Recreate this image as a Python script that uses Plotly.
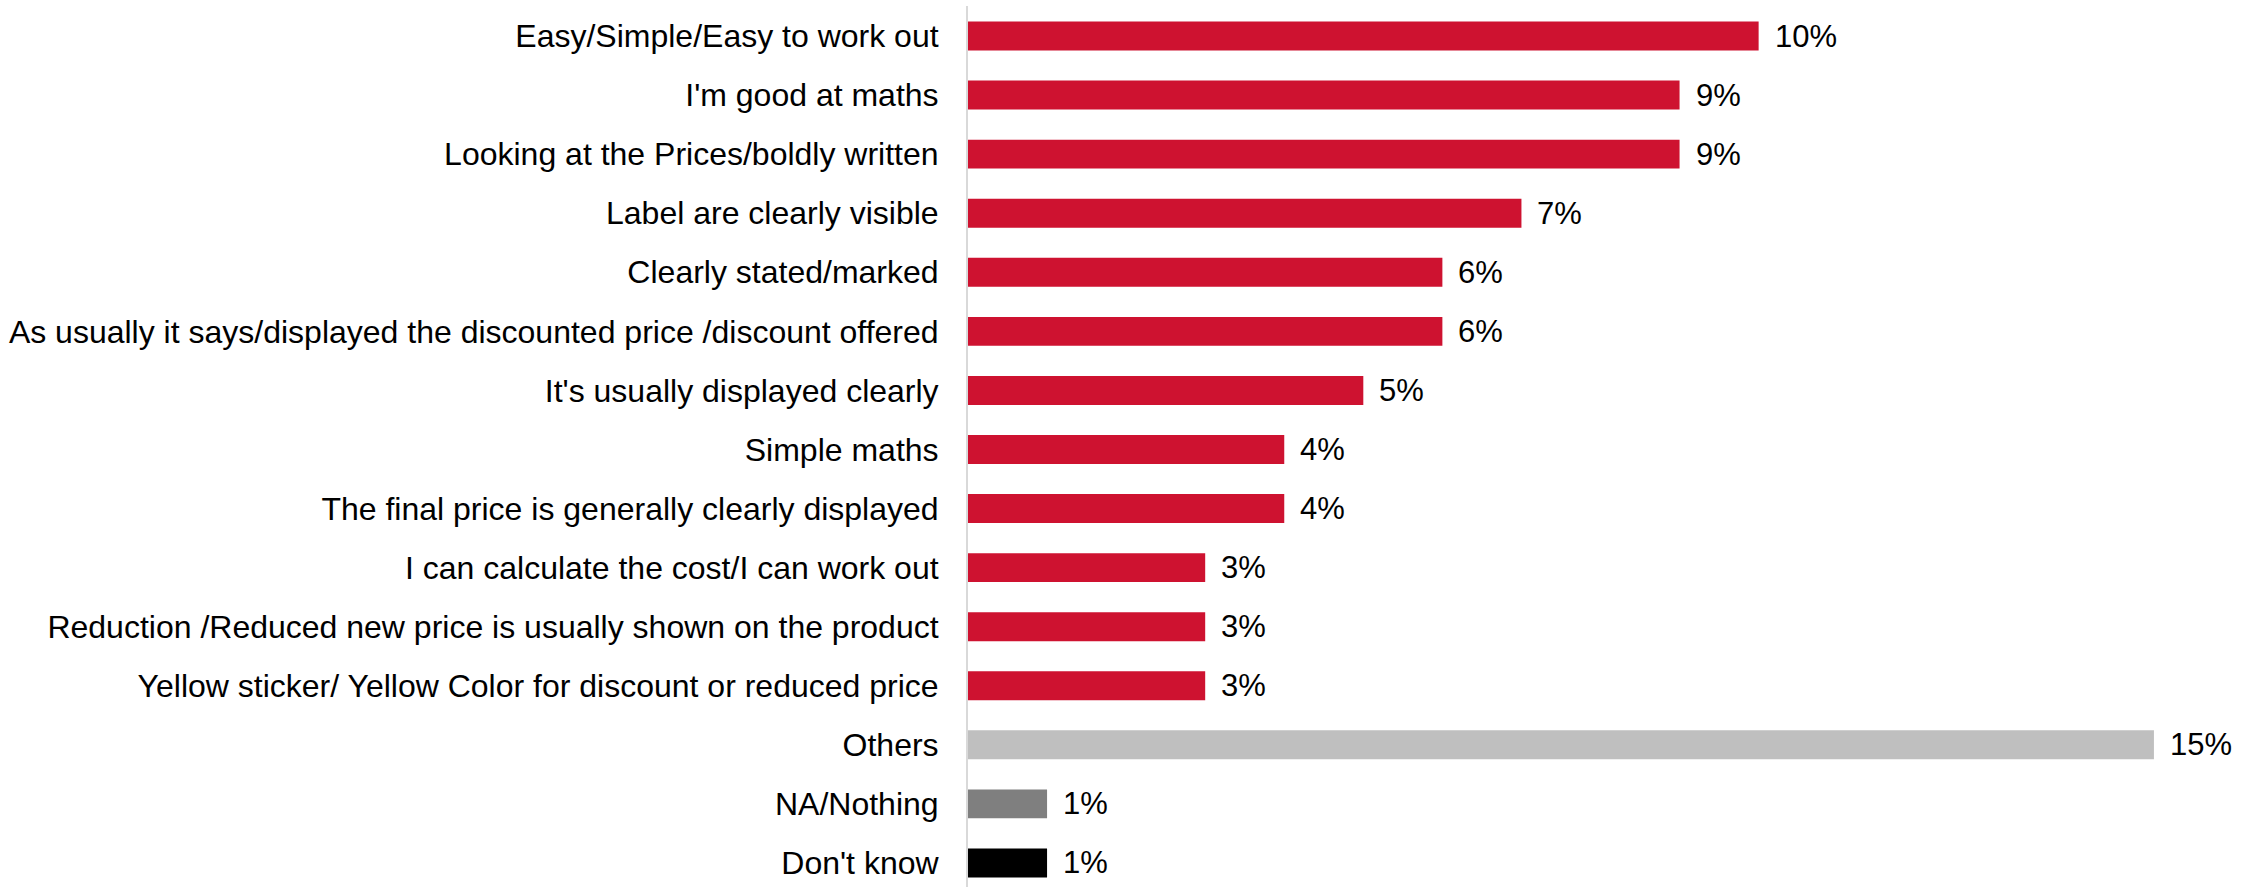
import plotly.graph_objects as go

# Survey responses: reasons given, share of respondents (%)
categories = [
    "Easy/Simple/Easy to work out",
    "I'm good at maths",
    "Looking at the Prices/boldly written",
    "Label are clearly visible",
    "Clearly stated/marked",
    "As usually it says/displayed the discounted price /discount offered",
    "It's usually displayed clearly",
    "Simple maths",
    "The final price is generally clearly displayed",
    "I can calculate the cost/I can work out",
    "Reduction /Reduced new price is usually shown on the product",
    "Yellow sticker/ Yellow Color for discount or reduced price",
    "Others",
    "NA/Nothing",
    "Don't know",
]
values = [10, 9, 9, 7, 6, 6, 5, 4, 4, 3, 3, 3, 15, 1, 1]

RED = "#CE1230"
bar_colors = [RED] * 12 + ["#BFBFBF", "#7F7F7F", "#000000"]

FONT = "Liberation Sans, Arial, sans-serif"

fig = go.Figure(
    go.Bar(
        x=values,
        y=categories,
        orientation="h",
        marker=dict(color=bar_colors, line=dict(width=0)),
        width=0.49,
        hoverinfo="skip",
    )
)

# value labels to the right of each bar
for cat, val in zip(categories, values):
    fig.add_annotation(
        x=val, y=cat, text=f"{val}%",
        showarrow=False, xanchor="left", yanchor="middle",
        xshift=14, font=dict(family=FONT, size=31, color="#000000"),
    )

fig.update_layout(
    width=2259,
    height=887,
    margin=dict(l=968, r=26, t=6, b=0),
    plot_bgcolor="white",
    paper_bgcolor="white",
    showlegend=False,
    font=dict(family=FONT, size=32, color="#000000"),
    xaxis=dict(
        range=[0, 16], visible=False, showgrid=False, zeroline=False,
    ),
    yaxis=dict(
        categoryorder="array",
        categoryarray=categories,
        range=[14.407, -0.508],
        showgrid=False,
        zeroline=False,
        showline=True,
        linecolor="#D9D9D9",
        linewidth=2,
        ticks="",
        ticklabelstandoff=21,
        tickfont=dict(family=FONT, size=32, color="#000000"),
    ),
)

fig.write_html("out.html")
